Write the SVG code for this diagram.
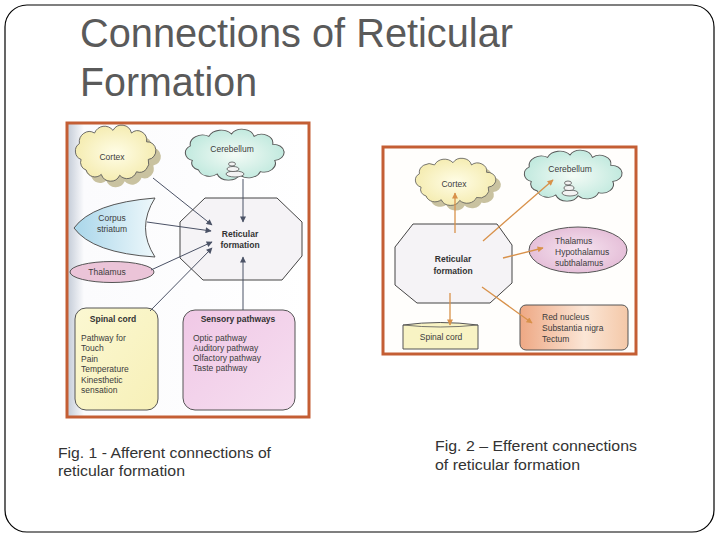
<svg xmlns="http://www.w3.org/2000/svg" width="720" height="540" viewBox="0 0 720 540">
<style>
.title{font-family:"Liberation Sans",Arial,sans-serif;font-size:40px;fill:#5a5a5a}
.cap{font-family:"Liberation Sans",Arial,sans-serif;font-size:15.5px;fill:#333}
.t{font-family:"Liberation Sans",Arial,sans-serif;font-size:8.5px;fill:#3c3c3c}
.tb{font-family:"Liberation Sans",Arial,sans-serif;font-size:8.5px;font-weight:bold;fill:#333}
.frame{fill:none;stroke:#c45e34;stroke-width:3}
.cl{stroke:#555;stroke-width:1;vector-effect:non-scaling-stroke}
.oct{fill:#f5f3f6;stroke:#444;stroke-width:1}
.a1{stroke:#4b5266;stroke-width:1;fill:none;marker-end:url(#ah1)}
.a2{stroke:#d8914a;stroke-width:1.3;fill:none;marker-end:url(#ah2)}
</style>
<defs>
<path id="cloud" d="M12,38 A10,10 0 0 1 10,20 A12,12 0 0 1 28,8 A13,13 0 0 1 50,5 A12,12 0 0 1 72,8 A11,11 0 0 1 90,18 A10,10 0 0 1 92,38 A11,11 0 0 1 78,52 A12,12 0 0 1 58,56 A12,12 0 0 1 36,55 A11,11 0 0 1 18,50 A9,9 0 0 1 12,38 Z"/>
<radialGradient id="gY" cx="0.5" cy="0.5" r="0.6"><stop offset="0" stop-color="#fffde6"/><stop offset="1" stop-color="#f3e9a8"/></radialGradient>
<radialGradient id="gC" cx="0.5" cy="0.5" r="0.6"><stop offset="0" stop-color="#f4fbf6"/><stop offset="1" stop-color="#b8e6da"/></radialGradient>
<linearGradient id="gB" x1="0" y1="0" x2="1" y2="0"><stop offset="0" stop-color="#a9d6ea"/><stop offset="1" stop-color="#eef8fb"/></linearGradient>
<linearGradient id="gBg" x1="0" y1="0" x2="1" y2="0"><stop offset="0" stop-color="#c2cad6"/><stop offset="0.07" stop-color="#fbfbfd"/><stop offset="1" stop-color="#ffffff"/></linearGradient>
<linearGradient id="gSp" x1="0" y1="0" x2="1" y2="1"><stop offset="0" stop-color="#fbf8d2"/><stop offset="1" stop-color="#f7f0b8"/></linearGradient>
<linearGradient id="gPk" x1="0" y1="0" x2="1" y2="1"><stop offset="0" stop-color="#f0c8e6"/><stop offset="1" stop-color="#f6def0"/></linearGradient>
<linearGradient id="gRn" x1="0" y1="0" x2="1" y2="0"><stop offset="0" stop-color="#eea884"/><stop offset="0.6" stop-color="#fbe6d6"/><stop offset="1" stop-color="#f4c8a8"/></linearGradient>
<radialGradient id="gTh" cx="0.5" cy="0.5" r="0.6"><stop offset="0" stop-color="#f6e4f0"/><stop offset="1" stop-color="#e2b8d4"/></radialGradient>
<marker id="ah1" viewBox="0 0 10 10" refX="9" refY="5" markerWidth="7" markerHeight="6" markerUnits="userSpaceOnUse" orient="auto"><path d="M0,0 L10,5 L0,10 Z" fill="#4b5266"/></marker>
<marker id="ah2" viewBox="0 0 10 10" refX="9" refY="5" markerWidth="7" markerHeight="6" markerUnits="userSpaceOnUse" orient="auto"><path d="M0,0 L10,5 L0,10 Z" fill="#d8914a"/></marker>
</defs>

<rect x="5" y="5" width="709" height="527" rx="22" fill="#fff" stroke="#000" stroke-width="1.2"/>
<text class="title" x="80" y="47" textLength="433" lengthAdjust="spacingAndGlyphs">Connections of Reticular</text>
<text class="title" x="80" y="96" textLength="177" lengthAdjust="spacingAndGlyphs">Formation</text>

<!-- Figure 1 -->
<g id="fig1">
<rect x="67" y="123" width="242" height="294" fill="url(#gBg)"/>
<rect class="frame" x="67" y="123" width="242" height="294"/>
</g>
<g id="f1-cortex">
<use href="#cloud" transform="translate(76,132) scale(0.84,0.88)" fill="#c9c2a0" stroke="none"/>
<use href="#cloud" class="cl" transform="translate(71,126) scale(0.84,0.88)" fill="url(#gY)"/>
<text class="t" x="112" y="160" text-anchor="middle">Cortex</text>
</g>
<g id="f1-cerebellum">
<use href="#cloud" class="cl" transform="translate(180,130) scale(1.03,0.8)" fill="url(#gC)"/>
<text class="t" x="232" y="152" text-anchor="middle">Cerebellum</text>
<g fill="#f3f3f3" stroke="#555" stroke-width="0.8">
<ellipse cx="235" cy="174" rx="9" ry="3"/><ellipse cx="233" cy="169" rx="6" ry="2.5"/><ellipse cx="232" cy="164" rx="3.5" ry="2"/>
</g>
</g>
<g id="f1-corpus">
<path d="M155,198 Q92,203 74,228 Q92,253 155,257 Q136,228 155,198 Z" fill="url(#gB)" stroke="#555" stroke-width="1"/>
<text class="t" x="112" y="221" text-anchor="middle">Corpus</text>
<text class="t" x="112" y="232" text-anchor="middle">striatum</text>
</g>
<g id="f1-thalamus">
<ellipse cx="112" cy="272" rx="42" ry="10.5" fill="#ebc4d8" stroke="#555" stroke-width="1"/>
<text class="t" x="107" y="275" text-anchor="middle">Thalamus</text>
</g>
<g id="f1-reticular">
<polygon class="oct" points="205,198 277,198 302,222 302,256 282,280 203,280 180,258 180,222"/>
<text class="tb" x="240" y="237" text-anchor="middle">Reticular</text>
<text class="tb" x="240" y="248" text-anchor="middle">formation</text>
</g>
<g id="f1-spinal">
<rect x="75" y="308" width="83" height="102" rx="11" fill="url(#gSp)" stroke="#555" stroke-width="1"/>
<text class="tb" x="113" y="322" text-anchor="middle">Spinal cord</text>
<text class="t" x="81" y="341">Pathway for</text>
<text class="t" x="81" y="351" fill="#777">Touch</text>
<text class="t" x="81" y="362">Pain</text>
<text class="t" x="81" y="372" fill="#666">Temperature</text>
<text class="t" x="81" y="383">Kinesthetic</text>
<text class="t" x="81" y="393" fill="#777">sensation</text>
</g>
<g id="f1-sensory">
<rect x="183" y="310" width="112" height="100" rx="12" fill="url(#gPk)" stroke="#555" stroke-width="1"/>
<text class="tb" x="238" y="322" text-anchor="middle">Sensory pathways</text>
<text class="t" x="193" y="341">Optic pathway</text>
<text class="t" x="193" y="351">Auditory pathway</text>
<text class="t" x="193" y="361">Olfactory pathway</text>
<text class="t" x="193" y="371">Taste pathway</text>
</g>
<g id="f1-connectors">
<line class="a1" x1="153" y1="178" x2="212" y2="225"/>
<line class="a1" x1="243" y1="179" x2="243" y2="222"/>
<line class="a1" x1="147" y1="222" x2="211" y2="231"/>
<line class="a1" x1="151" y1="270" x2="212" y2="242"/>
<line class="a1" x1="150" y1="311" x2="212" y2="248"/>
<line class="a1" x1="243" y1="310" x2="243" y2="257"/>
</g>

<!-- Figure 2 -->
<g id="fig2">
<rect x="383" y="147" width="253" height="207" fill="#fffefc"/>
<rect class="frame" x="383" y="147" width="253" height="207"/>
</g>
<g id="f2-cortex">
<use href="#cloud" transform="translate(416,164) scale(0.84,0.74)" fill="#c9c2a0" stroke="none"/>
<use href="#cloud" class="cl" transform="translate(411,159) scale(0.84,0.74)" fill="url(#gY)"/>
<text class="t" x="454" y="187" text-anchor="middle">Cortex</text>
</g>
<g id="f2-cerebellum">
<use href="#cloud" class="cl" transform="translate(519,151) scale(1.02,0.8)" fill="url(#gC)"/>
<text class="t" x="570" y="172" text-anchor="middle">Cerebellum</text>
<g fill="#f3f3f3" stroke="#555" stroke-width="0.8">
<ellipse cx="570" cy="193" rx="8" ry="3"/><ellipse cx="569" cy="188" rx="5" ry="2.5"/><ellipse cx="568" cy="183" rx="3.5" ry="2"/>
</g>
</g>
<g id="f2-reticular">
<polygon class="oct" points="413,224 497,224 512,245 512,283 490,303 417,303 395,285 395,247"/>
<text class="tb" x="453" y="262" text-anchor="middle">Reticular</text>
<text class="tb" x="453" y="274" text-anchor="middle">formation</text>
</g>
<g id="f2-thalamus">
<ellipse cx="578" cy="250" rx="49" ry="23" fill="url(#gTh)" stroke="#555" stroke-width="1"/>
<text class="t" x="555" y="244">Thalamus</text>
<text class="t" x="555" y="255">Hypothalamus</text>
<text class="t" x="555" y="266">subthalamus</text>
</g>
<g id="f2-red">
<rect x="520" y="305" width="108" height="45" rx="6" fill="url(#gRn)" stroke="#555" stroke-width="1"/>
<text class="t" x="542" y="320">Red nucleus</text>
<text class="t" x="542" y="331">Substantia nigra</text>
<text class="t" x="542" y="342">Tectum</text>
</g>
<g id="f2-spinal">
<path d="M403,325 Q440,320 478,325 L478,349 L403,349 Z" fill="#f8f3c4" stroke="#555" stroke-width="1"/>
<path d="M403,325 Q440,329 478,325" fill="none" stroke="#555" stroke-width="0.8"/>
<text class="t" x="441" y="340" text-anchor="middle">Spinal cord</text>
</g>
<g id="f2-connectors">
<line class="a2" x1="455" y1="233" x2="455" y2="193"/>
<line class="a2" x1="483" y1="241" x2="553" y2="180"/>
<line class="a2" x1="503" y1="258" x2="543" y2="248"/>
<line class="a2" x1="482" y1="287" x2="532" y2="323"/>
<line class="a2" x1="450" y1="293" x2="450" y2="325"/>
</g>

<g id="captions">
<text class="cap" x="58" y="458" textLength="213" lengthAdjust="spacingAndGlyphs">Fig. 1 - Afferent connections of</text>
<text class="cap" x="58" y="476" textLength="127" lengthAdjust="spacingAndGlyphs">reticular formation</text>
<text class="cap" x="435" y="451" textLength="202" lengthAdjust="spacingAndGlyphs">Fig. 2 – Efferent connections</text>
<text class="cap" x="435" y="470" textLength="145" lengthAdjust="spacingAndGlyphs">of reticular formation</text>
</g>
</svg>
